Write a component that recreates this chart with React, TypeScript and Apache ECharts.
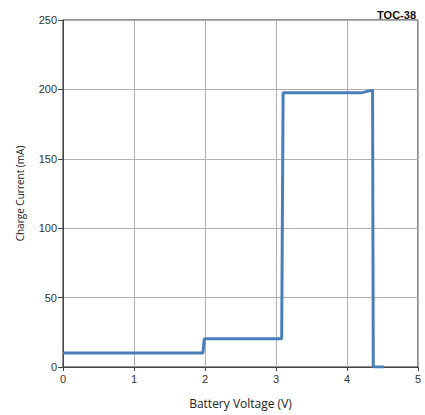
import React, { useEffect, useRef } from "react";
import * as echarts from "echarts";

const voltage = [0, 1.97, 1.99, 3.08, 3.1, 4.2, 4.36, 4.37, 4.52];
const current = [10, 10, 20.3, 20.3, 197.5, 197.5, 199.5, 0, 0];
const xTicks = [0, 1, 2, 3, 4, 5];
const yTicks = [0, 50, 100, 150, 200, 250];

export default function App() {
  const ref = useRef<HTMLDivElement>(null);
  useEffect(() => {
    const chart = echarts.init(ref.current!, null, { renderer: "svg" });
    chart.setOption({
      animation: false,
      backgroundColor: "#ffffff",
      grid: { left: 63, right: 7, top: 20, bottom: 48, show: true, borderColor: "#222", borderWidth: 1 },
      title: {
        text: "TOC-38",
        right: 4,
        top: 4,
        textStyle: { fontFamily: "Liberation Sans", fontSize: 11, fontWeight: "bold", color: "#111" },
      },
      xAxis: {
        type: "value",
        min: xTicks[0],
        max: xTicks[xTicks.length - 1],
        interval: 1,
        name: "Battery Voltage (V)",
        nameLocation: "middle",
        nameGap: 30,
        nameTextStyle: { fontFamily: "Open Sans", fontSize: 12, color: "#222" },
        axisLine: { show: true, lineStyle: { color: "#444", width: 1 } },
        axisTick: { show: true, length: 4, lineStyle: { color: "#444" } },
        axisLabel: { fontFamily: "Liberation Sans", fontSize: 11, color: "#333", margin: 6 },
        splitLine: { show: true, lineStyle: { color: "#b0b0b0", width: 1 } },
      },
      yAxis: {
        type: "value",
        min: yTicks[0],
        max: yTicks[yTicks.length - 1],
        interval: 50,
        name: "Charge Current (mA)",
        nameLocation: "middle",
        nameGap: 38,
        nameRotate: 90,
        nameTextStyle: { fontFamily: "Open Sans", fontSize: 10, color: "#222" },
        axisLine: { show: true, lineStyle: { color: "#444", width: 1 } },
        axisTick: { show: true, length: 5, lineStyle: { color: "#444" } },
        axisLabel: { fontFamily: "Liberation Sans", fontSize: 11, color: "#333", margin: 6 },
        splitLine: { show: true, lineStyle: { color: "#b0b0b0", width: 1 } },
      },
      series: [
        {
          type: "line",
          data: voltage.map((v, i) => [v, current[i]]),
          showSymbol: false,
          lineStyle: { color: "#4a7ebb", width: 3 },
          itemStyle: { color: "#4a7ebb" },
        },
      ],
    });
    return () => chart.dispose();
  }, []);
  return (
    <div
      ref={ref}
      style={{ position: "absolute", left: 0, top: 0, width: 425, height: 415 }}
    />
  );
}
